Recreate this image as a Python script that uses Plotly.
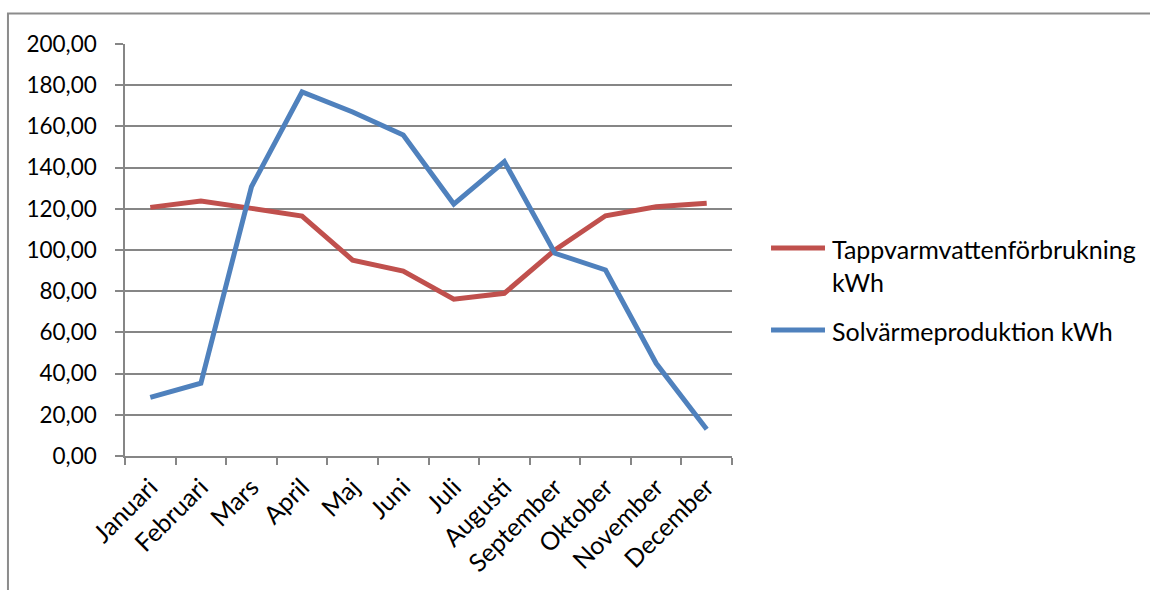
import plotly.graph_objects as go

# Monthly categories and series (kWh)
months = ["Januari", "Februari", "Mars", "April", "Maj", "Juni", "Juli",
          "Augusti", "September", "Oktober", "November", "December"]
tappvarmvatten = [120.7, 123.8, 120.2, 116.5, 95.1, 89.8, 76.1, 79.0, 100.0, 116.6, 121.0, 122.7]
solvarme = [28.5, 35.3, 130.7, 176.7, 167.0, 155.8, 122.3, 142.9, 98.4, 90.3, 45.0, 13.0]

series_names = ["Tappvarmvattenförbrukning<br>kWh", "Solvärmeproduktion kWh"]
red = "#C0504D"
blue = "#4F81BD"
grid = "#868686"
font_family = "Lato, 'Open Sans', sans-serif"

fig = go.Figure()
fig.add_trace(go.Scatter(x=months, y=tappvarmvatten, mode="lines",
                         line=dict(color=red, width=5), name=series_names[0],
                         showlegend=False))
fig.add_trace(go.Scatter(x=months, y=solvarme, mode="lines",
                         line=dict(color=blue, width=5), name=series_names[1],
                         showlegend=False))

# chart-area frame
fig.add_shape(type="rect", xref="paper", yref="paper",
              x0=-0.1928, x1=1.70, y0=-0.36, y1=1.074,
              line=dict(color="#8C8C8C", width=2), fillcolor="rgba(0,0,0,0)",
              layer="below")

# legend drawn as line keys plus labels
legend_rows = [(0.5049, red, series_names[0], 0.462),
               (0.3058, blue, series_names[1], 0.3035)]
for ykey, col, label, ytext in legend_rows:
    fig.add_shape(type="line", xref="paper", yref="paper",
                  x0=1.0643, x1=1.1532, y0=ykey, y1=ykey,
                  line=dict(color=col, width=5))
    fig.add_annotation(xref="paper", yref="paper", x=1.1614, y=ytext,
                       xanchor="left", yanchor="middle", align="left",
                       text=label, showarrow=False,
                       font=dict(family=font_family, size=25, color="#000000"))

fig.update_layout(
    width=1150, height=590,
    margin=dict(l=125, r=418, t=44, b=134),
    paper_bgcolor="white", plot_bgcolor="white",
    separators=", ",
    font=dict(family=font_family, size=22, color="#000000"),
    xaxis=dict(type="category", tickson="boundaries", ticks="outside",
               ticklen=7, tickcolor=grid, tickwidth=1.5,
               showline=True, linecolor=grid, linewidth=1.5,
               showgrid=False, tickangle=-45, range=[-0.5, 11.5],
               ticklabelstandoff=5,
               tickfont=dict(size=25)),
    yaxis=dict(range=[0, 200], dtick=20, tickformat=".2f",
               ticks="outside", ticklen=8, tickcolor=grid, tickwidth=1.5,
               showline=True, linecolor=grid, linewidth=1.5,
               showgrid=True, gridcolor=grid, gridwidth=1.5,
               zeroline=False, ticklabelstandoff=14,
               tickfont=dict(size=22.5)),
)

fig.write_html("out.html")
